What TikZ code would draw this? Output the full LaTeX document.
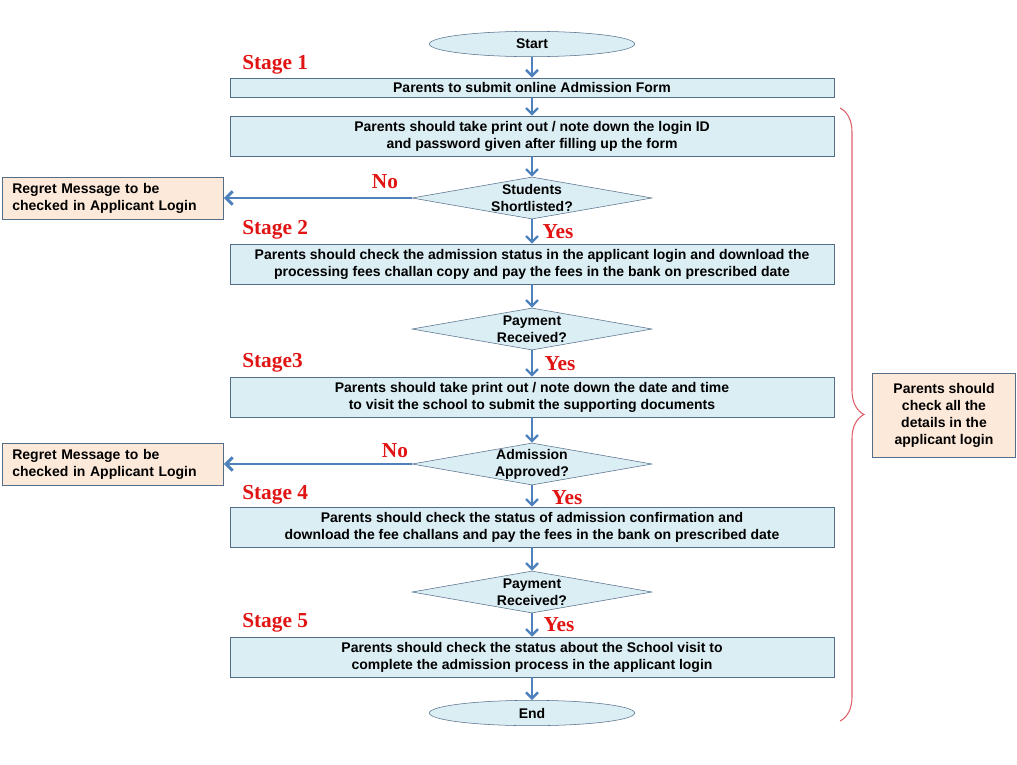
\documentclass[tikz,border=0pt]{standalone}
\usepackage{fontspec}
\setmainfont{Liberation Sans}
\newfontfamily\stagefont{Liberation Serif}
\usepackage{tikz}
\usetikzlibrary{shapes.geometric,arrows.meta,decorations.pathreplacing}

\definecolor{boxfill}{RGB}{219,238,244}
\definecolor{boxline}{RGB}{84,110,138}
\definecolor{msgfill}{RGB}{253,233,217}
\definecolor{flowblue}{RGB}{79,129,189}
\definecolor{stagered}{RGB}{225,20,20}
\definecolor{bracered}{RGB}{220,95,105}

\begin{document}
\begin{tikzpicture}[x=0.75pt,y=-0.75pt,
  every node/.style={font=\fontsize{10.5}{12.75}\selectfont\bfseries},
  stepbox/.style={draw=boxline,fill=boxfill,minimum width=453pt,minimum height=30pt,align=center,inner sep=0pt},
  thinbox/.style={stepbox,minimum height=14.5pt},
  terminal/.style={ellipse,draw=boxline,fill=boxfill,minimum width=154pt,minimum height=19pt,inner sep=0pt},
  decision/.style={diamond,aspect=5.7,draw=boxline,fill=boxfill,minimum width=180pt,minimum height=31.5pt,inner sep=-2pt,align=center},
  msgbox/.style={draw=boxline,fill=msgfill,text width=151pt,minimum height=31.5pt,inner xsep=7.5pt,align=left},
  notebox/.style={draw=boxline,fill=msgfill,minimum width=107pt,minimum height=63pt,align=center,inner sep=0pt},
  stagelbl/.style={font=\stagefont\fontsize{16}{18}\selectfont\bfseries,text=stagered,anchor=west,inner sep=0pt},
  answer/.style={font=\stagefont\fontsize{16}{18}\selectfont\bfseries,text=stagered,inner sep=0pt},
  flow/.style={draw=flowblue,line width=1.8pt,-{Straight Barb[length=4.5pt,width=9pt]}},
  noflow/.style={draw=flowblue,line width=2.2pt,-{Straight Barb[length=5pt,width=10pt]}}]
\useasboundingbox (0,0) rectangle (1017,764);

% Main column
\node[terminal] (start) at (532,44) {Start};
\node[thinbox] (form) at (532,87.5) {Parents to submit online Admission Form};
\node[stepbox] (login) at (532,136) {Parents should take print out / note down the login ID\\and password given after filling up the form};
\node[decision] (shortlist) at (532,198) {Students\\Shortlisted?};
\node[stepbox] (status) at (532,264) {Parents should check the admission status in the applicant login and download the\\processing fees challan copy and pay the fees in the bank on prescribed date};
\node[decision] (payone) at (532,329) {Payment\\Received?};
\node[stepbox] (visit) at (532,397) {Parents should take print out / note down the date and time\\to visit the school to submit the supporting documents};
\node[decision] (approve) at (532,464) {Admission\\Approved?};
\node[stepbox] (confirm) at (532,527) {Parents should check the status of admission confirmation and\\download the fee challans and pay the fees in the bank on prescribed date};
\node[decision] (paytwo) at (532,592) {Payment\\Received?};
\node[stepbox] (complete) at (532,657) {Parents should check the status about the School visit to\\complete the admission process in the applicant login};
\node[terminal] (end) at (532,713) {End};

% Regret messages
\node[msgbox] (regretone) at (113,198) {Regret Message to be\\checked in Applicant Login};
\node[msgbox] (regrettwo) at (113,464) {Regret Message to be\\checked in Applicant Login};

% Note on the right
\node[notebox] (note) at (944,415) {Parents should\\check all the\\details in the\\applicant login};
\draw[bracered,line width=0.8pt,decorate,decoration={brace,amplitude=18pt}] (840,108) -- (840,721);

% Stages
\node[stagelbl] (stageone) at (242,65) {Stage 1};
\node[stagelbl] (stagetwo) at (242,230) {Stage 2};
\node[stagelbl] (stagethree) at (242,363) {Stage3};
\node[stagelbl] (stagefour) at (242,495) {Stage 4};
\node[stagelbl] (stagefive) at (242,623) {Stage 5};

% Answers
\node[answer] (noone) at (385,182) {No};
\node[answer] (yesone) at (558,232) {Yes};
\node[answer] (yestwo) at (560,364) {Yes};
\node[answer] (notwo) at (395,451) {No};
\node[answer] (yesthree) at (567,498) {Yes};
\node[answer] (yesfour) at (559,625) {Yes};

% Connectors
\draw[flow] (start) -- (form);
\draw[flow] (form) -- (login);
\draw[flow] (login) -- (shortlist);
\draw[flow] (shortlist) -- (status);
\draw[flow] (status) -- (payone);
\draw[flow] (payone) -- (visit);
\draw[flow] (visit) -- (approve);
\draw[flow] (approve) -- (confirm);
\draw[flow] (confirm) -- (paytwo);
\draw[flow] (paytwo) -- (complete);
\draw[flow] (complete) -- (end);
\draw[noflow] (shortlist.west) -- (regretone.east);
\draw[noflow] (approve.west) -- (regrettwo.east);
\end{tikzpicture}
\end{document}
